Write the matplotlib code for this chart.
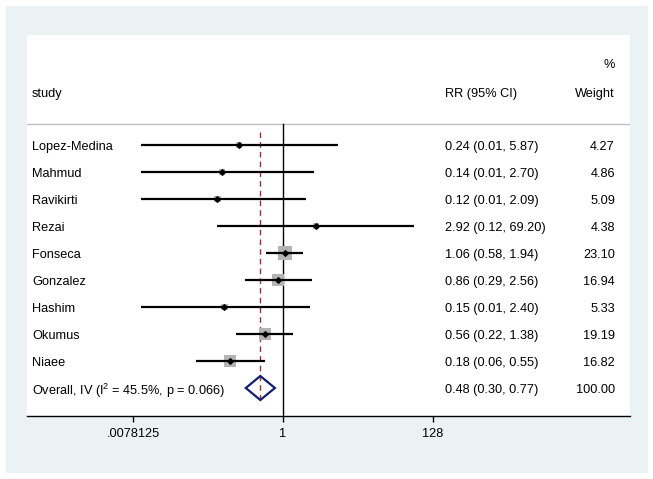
import matplotlib
matplotlib.use("Agg")
import matplotlib.pyplot as plt
from matplotlib.patches import Rectangle, Polygon
import numpy as np

plt.rcParams['font.family'] = ['Liberation Sans', 'DejaVu Sans']
plt.rcParams['mathtext.fontset'] = 'custom'
plt.rcParams['mathtext.rm'] = 'Liberation Sans'
plt.rcParams['mathtext.it'] = 'Liberation Sans'

# ---- data ----
studies = ["Lopez-Medina", "Mahmud", "Ravikirti", "Rezai", "Fonseca",
           "Gonzalez", "Hashim", "Okumus", "Niaee"]
rr = [0.24, 0.14, 0.12, 2.92, 1.06, 0.86, 0.15, 0.56, 0.18]
ci_low = [0.01, 0.01, 0.01, 0.12, 0.58, 0.29, 0.01, 0.22, 0.06]
ci_high = [5.87, 2.70, 2.09, 69.20, 1.94, 2.56, 2.40, 1.38, 0.55]
weights = [4.27, 4.86, 5.09, 4.38, 23.10, 16.94, 5.33, 19.19, 16.82]
overall_label = "Overall, IV (I$^{2}$ = 45.5%, p = 0.066)"
overall_rr = 0.48
overall_low = 0.30
overall_high = 0.77
overall_weight = 100.00
tick_values = [2**-7, 1, 2**7]
tick_labels = [".0078125", "1", "128"]

W, H = 653, 479
fig = plt.figure(figsize=(W/100, H/100), dpi=100)
fig.patch.set_facecolor('white')
bg = '#eaf2f3'
fig.patches.append(Rectangle((6/W, 1-473/H), (648-6)/W, (473-6)/H,
                             transform=fig.transFigure, facecolor=bg,
                             edgecolor='none', zorder=-10))

ax_l, ax_r, ax_t, ax_b = 27, 630, 35, 416
ax = fig.add_axes([ax_l/W, 1-ax_b/H, (ax_r-ax_l)/W, (ax_b-ax_t)/H])
ax.set_facecolor('white')

# x mapping: 1 at px 283, 21.43 px per log2 unit
x0px, ppu = 283, 150/7
ax.set_xscale('log', base=2)
ax.set_xlim(2**((ax_l-x0px)/ppu), 2**((ax_r-x0px)/ppu))
# y mapping: row 0 at px 145, 27 px per row
y0px, rowh = 145, 27
ax.set_ylim((ax_b-y0px)/rowh, (ax_t-y0px)/rowh)

def py(px):
    return (px-y0px)/rowh

def fx(px):
    return (px-ax_l)/(ax_r-ax_l)

fs = 9.2
toff = 0.0
tr = ax.get_yaxis_transform()
n = len(studies)
rows = np.arange(n)

def txt(xpx, y, s, ha='left'):
    ax.text(fx(xpx), y + toff, s, transform=tr, fontsize=fs,
            va='center_baseline', ha=ha)

# header
txt(32, py(92), "study")
txt(445, py(92), "RR (95% CI)")
txt(615, py(92), "Weight", ha='right')
txt(615, py(63), "%", ha='right')
ax.axhline(py(123.5), color='#c0c0c0', lw=1.0)

# reference lines
ax.plot([1, 1], [py(124), py(416)], color='black', lw=1.0, zorder=2)
ax.plot([overall_rr, overall_rr], [py(132), py(402)], color='#90353b', lw=1.0,
        ls=(0, (4, 3)), zorder=2)

# studies
for i in range(n):
    ax.plot([ci_low[i], ci_high[i]], [i, i], color='black', lw=1.6, zorder=4,
            solid_capstyle='butt')
ax.scatter(rr, rows, s=[4.2*w for w in weights], marker='s', color='#b4b4b4',
           edgecolors='none', zorder=3)
ax.scatter(rr, rows, s=8, marker='D', color='black', zorder=5)

for i in range(n):
    txt(32, i, studies[i])
    txt(445, i, f"{rr[i]:.2f} ({ci_low[i]:.2f}, {ci_high[i]:.2f})")
    txt(615, i, f"{weights[i]:.2f}", ha='right')

# overall
yo = n
dh = 12/rowh
diamond = Polygon([[overall_low, yo], [overall_rr, yo-dh], [overall_high, yo],
                   [overall_rr, yo+dh]], closed=True, facecolor='none',
                  edgecolor='#141e6e', lw=1.6, zorder=6)
ax.add_patch(diamond)
txt(32, yo, overall_label)
txt(445, yo, f"{overall_rr:.2f} ({overall_low:.2f}, {overall_high:.2f})")
txt(615, yo, f"{overall_weight:.2f}", ha='right')

# axes styling
for s in ['top', 'left', 'right']:
    ax.spines[s].set_visible(False)
ax.spines['bottom'].set_color('black')
ax.spines['bottom'].set_linewidth(1.0)
ax.set_yticks([])
ax.set_xticks(tick_values)
ax.set_xticklabels(tick_labels)
ax.xaxis.set_minor_locator(matplotlib.ticker.NullLocator())
ax.tick_params(axis='x', direction='out', length=4.5, width=1.0, pad=4, labelsize=fs)

fig.savefig("out.png", dpi=100, facecolor=fig.get_facecolor())
